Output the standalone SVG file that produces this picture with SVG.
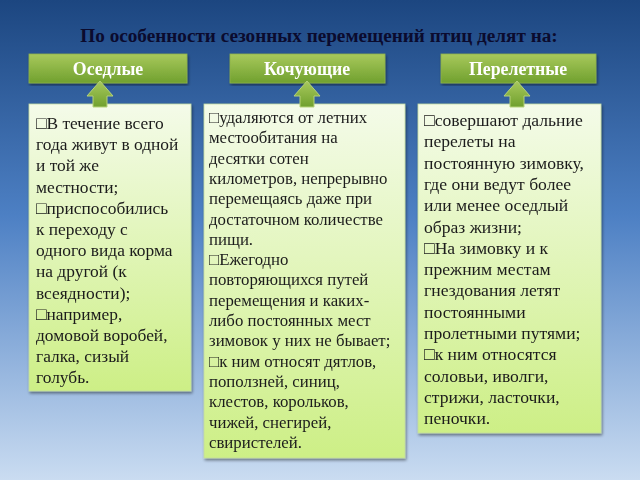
<svg xmlns="http://www.w3.org/2000/svg" width="640" height="480" viewBox="0 0 640 480">
<defs>
<linearGradient id="bg" x1="0" y1="0" x2="0" y2="1">
<stop offset="0" stop-color="#1c4680"/>
<stop offset="0.45" stop-color="#4d80c4"/>
<stop offset="1" stop-color="#cadcf1"/>
</linearGradient>
<linearGradient id="hdr" x1="0" y1="0" x2="0" y2="1">
<stop offset="0" stop-color="#a8c95c"/>
<stop offset="1" stop-color="#70a02e"/>
</linearGradient>
<linearGradient id="box" x1="0" y1="0" x2="0" y2="1">
<stop offset="0" stop-color="#f4fbe9"/>
<stop offset="1" stop-color="#cdef86"/>
</linearGradient>
<filter id="sh" x="-10%" y="-10%" width="120%" height="120%">
<feGaussianBlur in="SourceAlpha" stdDeviation="1.5"/>
<feOffset dx="1" dy="2"/>
<feComponentTransfer><feFuncA type="linear" slope="0.45"/></feComponentTransfer>
<feMerge><feMergeNode/><feMergeNode in="SourceGraphic"/></feMerge>
</filter>
</defs>
<style>
.title{font-family:"Liberation Serif","DejaVu Serif",serif;font-weight:bold;font-size:19.2px;fill:#0b0b2e}
.hdr{fill:url(#hdr);stroke:#8fb24a;stroke-width:0.8}
.htx{font-family:"Liberation Serif","DejaVu Serif",serif;font-weight:bold;font-size:17.8px;fill:#ffffff}
.box{fill:url(#box);stroke:#c4dca0;stroke-width:0.8}
.arr{fill:url(#hdr);stroke:#b6d27a;stroke-width:1}
.tx{font-family:"Liberation Serif","DejaVu Serif",serif;fill:#1b1b1b}
.b{font-family:"DejaVu Sans",sans-serif;font-size:0.85em}
</style>
<rect width="640" height="480" fill="url(#bg)"/>
<text class="title" x="319" y="42" text-anchor="middle">По особенности сезонных перемещений птиц делят на:</text>

<g id="hdr1" filter="url(#sh)">
<rect class="hdr" x="29" y="54" width="158" height="29"/>
<text class="htx" x="108" y="75" text-anchor="middle">Оседлые</text>
</g>
<g id="hdr2" filter="url(#sh)">
<rect class="hdr" x="230" y="54" width="155" height="29"/>
<text class="htx" x="307" y="75" text-anchor="middle">Кочующие</text>
</g>
<g id="hdr3" filter="url(#sh)">
<rect class="hdr" x="441" y="54" width="155" height="29"/>
<text class="htx" x="518" y="75" text-anchor="middle">Перелетные</text>
</g>

<g id="box1" filter="url(#sh)">
<rect class="box" x="29" y="104" width="162" height="287"/>
<text class="tx" font-size="17.4" x="36" y="129">
<tspan x="36" dy="0">□В течение всего</tspan>
<tspan x="36" dy="21.2">года живут в одной</tspan>
<tspan x="36" dy="21.2">и той же</tspan>
<tspan x="36" dy="21.2">местности;</tspan>
<tspan x="36" dy="21.2">□приспособились</tspan>
<tspan x="36" dy="21.2">к переходу с</tspan>
<tspan x="36" dy="21.2">одного вида корма</tspan>
<tspan x="36" dy="21.2">на другой (к</tspan>
<tspan x="36" dy="21.2">всеядности);</tspan>
<tspan x="36" dy="21.2">□например,</tspan>
<tspan x="36" dy="21.2">домовой воробей,</tspan>
<tspan x="36" dy="21.2">галка, сизый</tspan>
<tspan x="36" dy="21.2">голубь.</tspan>
</text>
</g>

<g id="box2" filter="url(#sh)">
<rect class="box" x="204" y="104" width="201" height="354"/>
<text class="tx" font-size="16.8" x="209" y="123">
<tspan x="209" dy="0">□удаляются от летних</tspan>
<tspan x="209" dy="20.3">местообитания на</tspan>
<tspan x="209" dy="20.3">десятки сотен</tspan>
<tspan x="209" dy="20.3">километров, непрерывно</tspan>
<tspan x="209" dy="20.3">перемещаясь даже при</tspan>
<tspan x="209" dy="20.3">достаточном количестве</tspan>
<tspan x="209" dy="20.3">пищи.</tspan>
<tspan x="209" dy="20.3">□Ежегодно</tspan>
<tspan x="209" dy="20.3">повторяющихся путей</tspan>
<tspan x="209" dy="20.3">перемещения и каких-</tspan>
<tspan x="209" dy="20.3">либо постоянных мест</tspan>
<tspan x="209" dy="20.3">зимовок у них не бывает;</tspan>
<tspan x="209" dy="20.3">□к ним относят дятлов,</tspan>
<tspan x="209" dy="20.3">поползней, синиц,</tspan>
<tspan x="209" dy="20.3">клестов, корольков,</tspan>
<tspan x="209" dy="20.3">чижей, снегирей,</tspan>
<tspan x="209" dy="20.3">свиристелей.</tspan>
</text>
</g>

<g id="box3" filter="url(#sh)">
<rect class="box" x="418" y="104" width="183" height="329"/>
<text class="tx" font-size="17.6" x="424" y="126">
<tspan x="424" dy="0">□совершают дальние</tspan>
<tspan x="424" dy="21.3">перелеты на</tspan>
<tspan x="424" dy="21.3">постоянную зимовку,</tspan>
<tspan x="424" dy="21.3">где они ведут более</tspan>
<tspan x="424" dy="21.3">или менее оседлый</tspan>
<tspan x="424" dy="21.3">образ жизни;</tspan>
<tspan x="424" dy="21.3">□На зимовку и к</tspan>
<tspan x="424" dy="21.3">прежним местам</tspan>
<tspan x="424" dy="21.3">гнездования летят</tspan>
<tspan x="424" dy="21.3">постоянными</tspan>
<tspan x="424" dy="21.3">пролетными путями;</tspan>
<tspan x="424" dy="21.3">□к ним относятся</tspan>
<tspan x="424" dy="21.3">соловьи, иволги,</tspan>
<tspan x="424" dy="21.3">стрижи, ласточки,</tspan>
<tspan x="424" dy="21.3">пеночки.</tspan>
</text>
</g>

<g id="connectors">
<path class="arr" d="M100,81 L113,96 L107,96 L107,107 L93,107 L93,96 L87,96 Z"/>
<path class="arr" d="M307,81 L320,96 L314,96 L314,107 L300,107 L300,96 L294,96 Z"/>
<path class="arr" d="M517,81 L530,96 L524,96 L524,107 L510,107 L510,96 L504,96 Z"/>
</g>
</svg>
